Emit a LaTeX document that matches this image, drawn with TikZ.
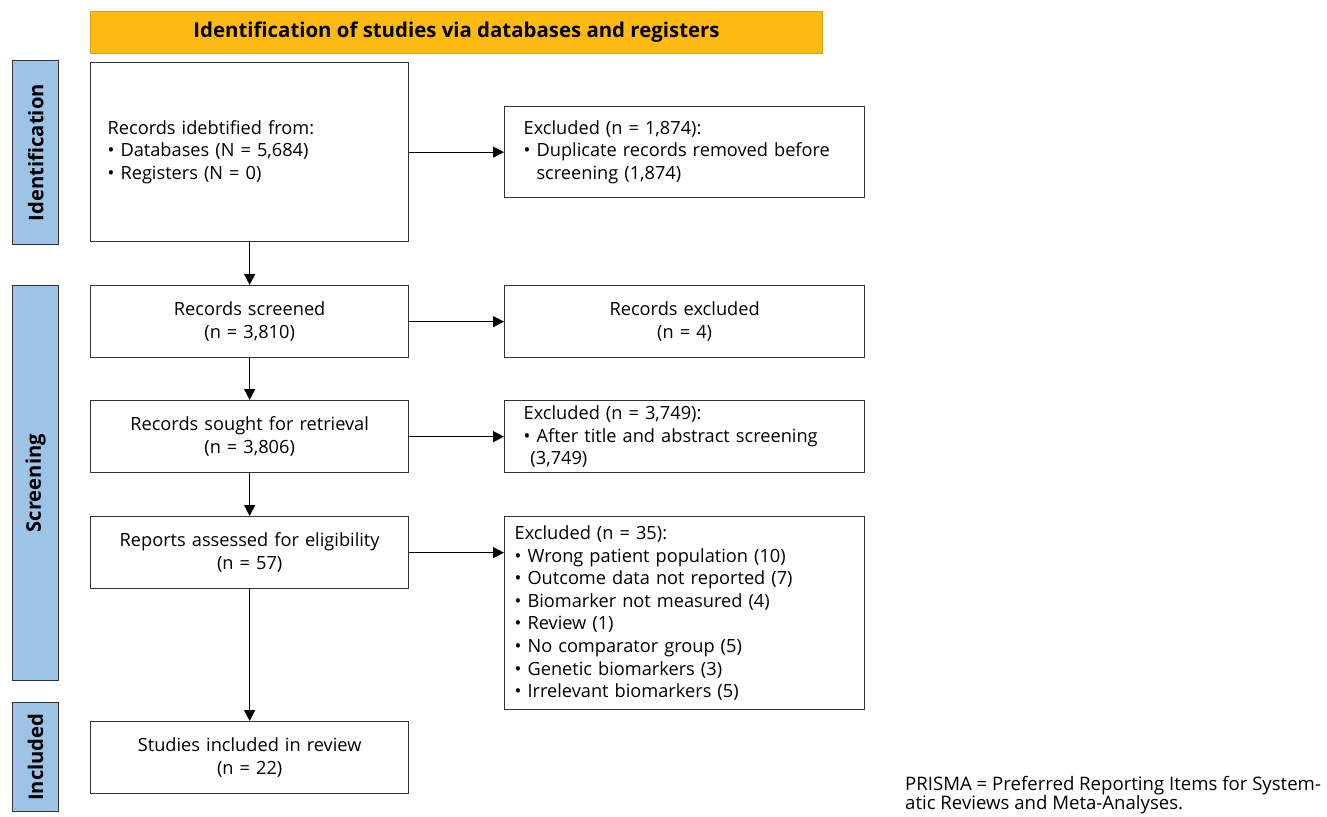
\documentclass[tikz,border=0pt]{standalone}
\usepackage{fontspec}
\setmainfont{Open Sans}
\usetikzlibrary{arrows.meta}
\definecolor{hdr}{HTML}{FCBA12}
\definecolor{hdrb}{HTML}{D9A21A}
\definecolor{side}{HTML}{9DC3E6}
\definecolor{bord}{HTML}{333333}
\tikzset{
  x=1pt,y=-1pt,
  box/.style={draw=bord,line width=1.3pt,fill=white,anchor=north west,inner ysep=0pt,
    font=\fontsize{18.2}{22.6}\selectfont},
  cbox/.style={box,align=center},
  lbox/.style={box,align=left},
  sidebar/.style={draw=bord,line width=1.3pt,fill=side,anchor=north west,inner sep=0pt},
  sidelabel/.style={rotate=90,font=\fontsize{20.2}{22}\selectfont\bfseries},
  arr/.style={draw=black,line width=1.3pt,-{Triangle[length=11pt,width=11pt]}}
}
\begin{document}
\begin{tikzpicture}
\useasboundingbox (0,0) rectangle (1327,816);
% header
\node[draw=hdrb,line width=1pt,fill=hdr,anchor=north west,minimum width=732pt,minimum height=42pt,inner sep=0pt,
  font=\fontsize{20.4}{22}\selectfont\bfseries] (hdr) at (90,11) {Identification of studies via databases and registers};
% side bars
\node[sidebar,minimum width=46pt,minimum height=184pt] (sb1) at (12,60) {};
\node[sidelabel] at (sb1.center) {Identification};
\node[sidebar,minimum width=46pt,minimum height=395pt] (sb2) at (12,285) {};
\node[sidelabel] at (sb2.center) {Screening};
\node[sidebar,minimum width=46pt,minimum height=109pt] (sb3) at (12,702) {};
\node[sidelabel] at (sb3.center) {Included};
% left column
\node[lbox,minimum width=318pt,minimum height=179pt,inner xsep=17pt,text width=284pt] (b1) at (90,62)
  {Records idebtified from:\\ • Databases (N = 5,684)\\ • Registers (N = 0)};
\node[cbox,minimum width=318pt,minimum height=72pt,text width=300pt] (b2) at (90,285)
  {Records screened\\ (n = 3,810)};
\node[cbox,minimum width=318pt,minimum height=72pt,text width=300pt] (b3) at (90,400)
  {Records sought for retrieval\\ (n = 3,806)};
\node[cbox,minimum width=318pt,minimum height=72pt,text width=300pt] (b4) at (90,516)
  {Reports assessed for eligibility\\ (n = 57)};
\node[cbox,minimum width=318pt,minimum height=72pt,text width=300pt] (b5) at (90,721)
  {Studies included in review\\ (n = 22)};
% right column
\node[lbox,minimum width=360pt,minimum height=91pt,inner xsep=19pt,text width=322pt] (e1) at (504,106)
  {Excluded (n = 1,874):\\ • Duplicate records removed before\\ \hphantom{• }screening (1,874)};
\node[cbox,minimum width=360pt,minimum height=72pt,text width=340pt] (e2) at (504,285)
  {Records excluded\\ (n = 4)};
\node[lbox,minimum width=360pt,minimum height=72pt,inner xsep=19pt,text width=322pt] (e3) at (504,400)
  {Excluded (n = 3,749):\\ • After title and abstract screening\\ \hphantom{•}(3,749)};
\node[lbox,minimum width=360pt,minimum height=193pt,inner xsep=10pt,text width=340pt] (e4) at (504,516)
  {Excluded (n = 35):\\ • Wrong patient population (10)\\ • Outcome data not reported (7)\\ • Biomarker not measured (4)\\ • Review (1)\\ • No comparator group (5)\\ • Genetic biomarkers (3)\\ • Irrelevant biomarkers (5)};
% footnote
\node[anchor=north west,align=left,inner sep=0pt,font=\fontsize{18.6}{19.5}\selectfont] (fn) at (905,776)
  {PRISMA = Preferred Reporting Items for System-\\atic Reviews and Meta-Analyses.};
% arrows
\draw[arr] (b1) -- (b2);
\draw[arr] (b2) -- (b3);
\draw[arr] (b3) -- (b4);
\draw[arr] (b4) -- (b5);
\draw[arr] (b1.east) -- (b1.east -| e1.west);
\draw[arr] (b2) -- (e2);
\draw[arr] (b3) -- (e3);
\draw[arr] (b4.east) -- (b4.east -| e4.west);
\end{tikzpicture}
\end{document}
